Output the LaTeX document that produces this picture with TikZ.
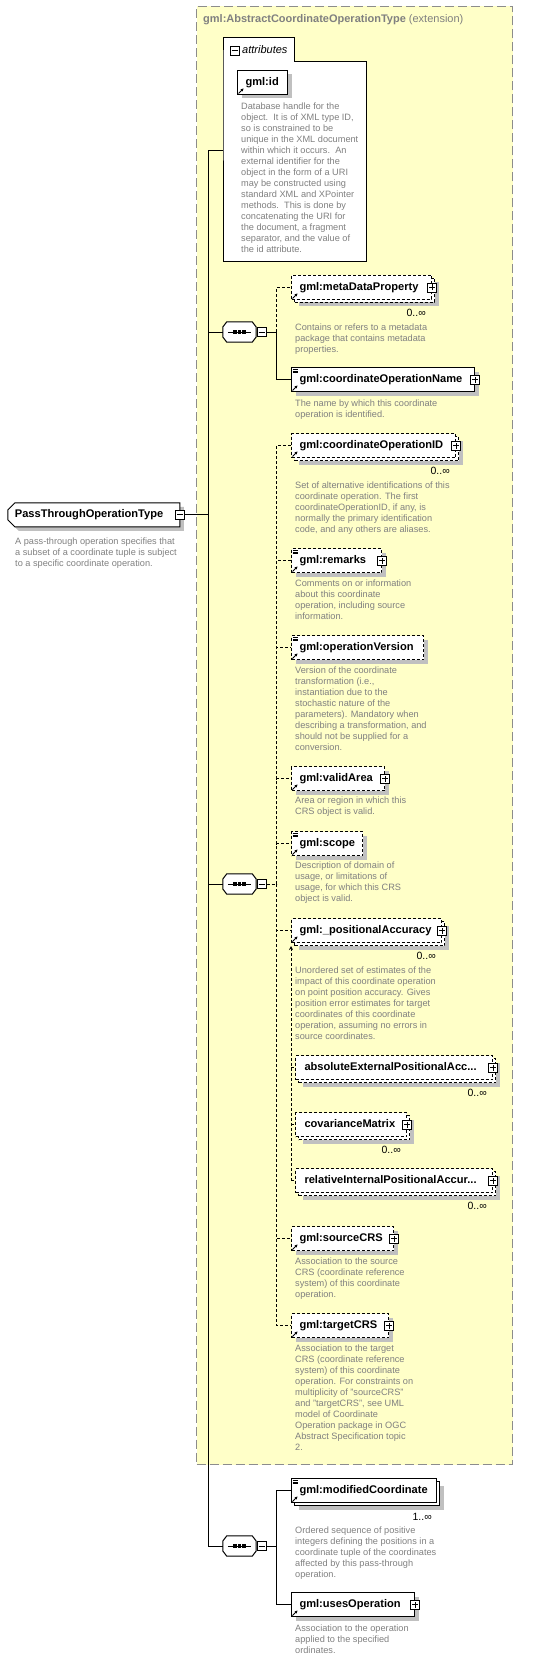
\documentclass[tikz,border=0pt]{standalone}
\usepackage{fontspec}
\setmainfont{Liberation Sans}
\usetikzlibrary{shapes.misc,shadows,calc,arrows.meta}

\definecolor{notegray}{RGB}{128,128,128}
\definecolor{extyellow}{RGB}{255,255,200}
\definecolor{framegray}{RGB}{140,140,140}
\definecolor{shadowgray}{RGB}{192,192,192}

\newcommand\elemfont{\fontsize{11.1}{13}\selectfont\bfseries}
\newcommand\notefont{\fontsize{9.2}{11}\selectfont}
\newcommand\multfont{\fontsize{10.5}{12}\selectfont}

% icons on an element box
\newcommand\refmark[1]{\draw[line width=0.8pt, -{Stealth[length=3pt,width=3pt]}] ($(#1.south west)+(1.5,-1.5)$) -- ++(5,-5);}
\newcommand\textmark[1]{\foreach \d in {2,3.8,5.6} \draw[line width=0.6pt] ($(#1.north west)+(1.5,\d)$) -- ++(5,0);}
% sequence compositor drawn round a named box
\newcommand\octpath[1]{($(#1.west)+(0,-5)$) -- ($(#1.north west)+(4,0)$) -- ($(#1.north east)+(-4,0)$) -- ($(#1.east)+(0,-5)$)
  -- ($(#1.east)+(0,5)$) -- ($(#1.south east)+(-4,0)$) -- ($(#1.south west)+(4,0)$) -- ($(#1.west)+(0,5)$) -- cycle}
\newcommand\seqmark[1]{%
  \fill[shadowgray, shift={(4,4)}] \octpath{#1};
  \draw[conn, fill=white] \octpath{#1};
  \draw[conn] ($(#1.west)+(5,0)$) -- ($(#1.east)+(-5,0)$);
  \foreach \d in {-4.5,0,4.5} \fill ($(#1.center)+(\d,0)$) +(-1.7,-1.7) rectangle +(1.7,1.7);}

\tikzset{
  conn/.style={line width=1pt},
  opt/.style={dash pattern=on 3pt off 2pt},
  shade4/.style={drop shadow={shadow xshift=4pt, shadow yshift=-4pt, fill=shadowgray, opacity=1}},
  elembase/.style={draw, fill=white, line width=1pt, anchor=north west, minimum height=24pt,
    inner xsep=8pt, inner ysep=0pt, align=left, font=\elemfont, text height=8pt, text depth=2.5pt},
  elem/.style={elembase, shade4},
  elems/.style={elembase, drop shadow={shadow xshift=7pt, shadow yshift=-7pt, fill=shadowgray, opacity=1},
    copy shadow={shadow xshift=3pt, shadow yshift=-3pt}},
  plusbox/.style={draw, fill=white, line width=0.8pt, minimum size=9pt, inner sep=0pt,
    path picture={\draw[line width=0.8pt] ([xshift=-3pt]path picture bounding box.center) -- ([xshift=3pt]path picture bounding box.center)
      ([yshift=-3pt]path picture bounding box.center) -- ([yshift=3pt]path picture bounding box.center);}},
  minusbox/.style={draw, fill=white, line width=0.8pt, minimum size=9pt, inner sep=0pt,
    path picture={\draw[line width=0.8pt] ([xshift=-3pt]path picture bounding box.center) -- ([xshift=3pt]path picture bounding box.center);}},
  seqbox/.style={minimum width=33pt, minimum height=20pt, inner sep=0pt},
  note/.style={anchor=north west, inner sep=0pt, align=left, font=\notefont, text=notegray},
  mult/.style={anchor=east, inner sep=0pt, font=\multfont},
}

\begin{document}
\begin{tikzpicture}[x=1pt, y=-1pt]
\useasboundingbox (0,0) rectangle (535,1661);

% extension frame
\node[draw=framegray, fill=extyellow, line width=1pt, dash pattern=on 9pt off 4pt, anchor=north west,
  minimum width=316pt, minimum height=1458pt, inner sep=0pt] (ext) at (196,6) {};
\node[anchor=west, inner sep=0pt, font=\fontsize{11}{13}\selectfont, text=notegray] (ext-title) at (203,19.5)
  {\textbf{gml:AbstractCoordinateOperationType} (extension)};

% attributes
\node[fill=white, anchor=north west, minimum width=143pt, minimum height=199pt, inner sep=0pt] (attrs) at (223,62) {};
\node[fill=white, anchor=south west, minimum width=71pt, minimum height=24pt, inner sep=0pt] (attrtab) at (attrs.north west) {};
\draw[conn] (attrtab.south west) |- (attrtab.north east) |- (attrs.north east) |- (attrs.south west) -- cycle;
\node[minusbox] (attr-x) at (234.5,50.5) {};
\node[anchor=west, inner sep=0pt, font=\fontsize{11}{13}\selectfont\itshape] (attr-label) at (242,50) {attributes};
\node[elem, text width=34pt] (gmlid) at (237,70) {gml:id};
\refmark{gmlid}
\node[note] (gmlid-d) at (241,102.5) {Database handle for the\\object.\ \ It is of XML type ID,\\so is constrained to be\\unique in the XML document\\within which it occurs.\ \ An\\external identifier for the\\object in the form of a URI\\may be constructed using\\standard XML and XPointer\\methods.\ \ This is done by\\concatenating the URI for\\the document, a fragment\\separator, and the value of\\the id attribute.};

% the type itself
\node[chamfered rectangle, chamfered rectangle corners={north west, south west}, chamfered rectangle xsep=3pt,
  chamfered rectangle ysep=4pt, draw, fill=white, line width=1pt, minimum width=166pt, minimum height=24pt,
  inner xsep=4pt, inner ysep=0pt, text width=158pt, align=left, font=\elemfont, text height=8pt, text depth=2.5pt,
  shade4, anchor=north west] (pt) at (11,506) {PassThroughOperationType};
\node[minusbox] (pt-x) at (pt.east) {};
\node[note] (pt-d) at (15,537.5) {A pass-through operation specifies that\\a subset of a coordinate tuple is subject\\to a specific coordinate operation.};

% first sequence
\node[seqbox] (seq1) at (239.5,332) {};
\seqmark{seq1}
\node[minusbox, anchor=west] (seq1-x) at ($(seq1.east)+(0.5,0)$) {};

\node[elems, opt, text width=124pt] (meta) at (291,275) {gml:metaDataProperty};
\node[plusbox] (meta-x) at (meta.east) {};
\node[mult] (meta-m) at ($(meta.south east)+(-6,13)$) {0..∞};
\refmark{meta}
\node[note] (meta-d) at (295,323.5) {Contains or refers to a metadata\\package that contains metadata\\properties.};

\node[elem, text width=167pt] (coname) at (291,367) {gml:coordinateOperationName};
\node[plusbox] (coname-x) at (coname.east) {};
\textmark{coname}
\refmark{coname}
\node[note] (coname-d) at (295,399.5) {The name by which this coordinate\\operation is identified.};

% second sequence
\node[seqbox] (seq2) at (239.5,884) {};
\seqmark{seq2}
\node[minusbox, anchor=west] (seq2-x) at ($(seq2.east)+(0.5,0)$) {};

\node[elems, opt, text width=148pt] (coid) at (291,433) {gml:coordinateOperationID};
\node[plusbox] (coid-x) at (coid.east) {};
\node[mult] (coid-m) at ($(coid.south east)+(-6,13)$) {0..∞};
\refmark{coid}
\node[note] (coid-d) at (295,481.5) {Set of alternative identifications of this\\coordinate operation. The first\\coordinateOperationID, if any, is\\normally the primary identification\\code, and any others are aliases.};

\node[elem, opt, text width=74pt] (remarks) at (291,548) {gml:remarks};
\node[plusbox] (remarks-x) at (remarks.east) {};
\textmark{remarks}
\refmark{remarks}
\node[note] (remarks-d) at (295,579.5) {Comments on or information\\about this coordinate\\operation, including source\\information.};

\node[elem, opt, text width=116pt] (opversion) at (291,635) {gml:operationVersion};
\textmark{opversion}
\refmark{opversion}
\node[note] (opversion-d) at (295,666.5) {Version of the coordinate\\transformation (i.e.,\\instantiation due to the\\stochastic nature of the\\parameters). Mandatory when\\describing a transformation, and\\should not be supplied for a\\conversion.};

\node[elem, opt, text width=77pt] (validarea) at (291,766) {gml:validArea};
\node[plusbox] (validarea-x) at (validarea.east) {};
\refmark{validarea}
\node[note] (validarea-d) at (295,796.5) {Area or region in which this\\CRS object is valid.};

\node[elem, opt, text width=55pt] (scope) at (291,831) {gml:scope};
\textmark{scope}
\refmark{scope}
\node[note] (scope-d) at (295,861.5) {Description of domain of\\usage, or limitations of\\usage, for which this CRS\\object is valid.};

\node[elems, opt, text width=134pt] (posacc) at (291,918) {gml:\_positionalAccuracy};
\node[plusbox] (posacc-x) at (posacc.east) {};
\node[mult] (posacc-m) at ($(posacc.south east)+(-6,13)$) {0..∞};
\refmark{posacc}
\node[note] (posacc-d) at (295,966.5) {Unordered set of estimates of the\\impact of this coordinate operation\\on point position accuracy. Gives\\position error estimates for target\\coordinates of this coordinate\\operation, assuming no errors in\\source coordinates.};

% substitution group of _positionalAccuracy
\node[elems, opt, inner xsep=9pt, text width=179pt] (absacc) at (295,1055) {absoluteExternalPositionalAcc...};
\node[plusbox] (absacc-x) at (absacc.east) {};
\node[mult] (absacc-m) at ($(absacc.south east)+(-6,13)$) {0..∞};

\node[elems, opt, inner xsep=9pt, text width=93pt] (covmat) at (295,1112) {covarianceMatrix};
\node[plusbox] (covmat-x) at (covmat.east) {};
\node[mult] (covmat-m) at ($(covmat.south east)+(-6,13)$) {0..∞};

\node[elems, opt, inner xsep=9pt, text width=179pt] (relacc) at (295,1168) {relativeInternalPositionalAccur...};
\node[plusbox] (relacc-x) at (relacc.east) {};
\node[mult] (relacc-m) at ($(relacc.south east)+(-6,13)$) {0..∞};

\node[elem, opt, text width=86pt] (srccrs) at (291,1226) {gml:sourceCRS};
\node[plusbox] (srccrs-x) at (srccrs.east) {};
\refmark{srccrs}
\node[note] (srccrs-d) at (295,1257.5) {Association to the source\\CRS (coordinate reference\\system) of this coordinate\\operation.};

\node[elem, opt, text width=81pt] (tgtcrs) at (291,1313) {gml:targetCRS};
\node[plusbox] (tgtcrs-x) at (tgtcrs.east) {};
\refmark{tgtcrs}
\node[note] (tgtcrs-d) at (295,1344.5) {Association to the target\\CRS (coordinate reference\\system) of this coordinate\\operation. For constraints on\\multiplicity of "sourceCRS"\\and "targetCRS", see UML\\model of Coordinate\\Operation package in OGC\\Abstract Specification topic\\2.};

% third sequence
\node[seqbox] (seq3) at (239.5,1546) {};
\seqmark{seq3}
\node[minusbox, anchor=west] (seq3-x) at ($(seq3.east)+(0.5,0)$) {};

\node[elems, text width=129pt] (modcoord) at (291,1478) {gml:modifiedCoordinate};
\node[mult] (modcoord-m) at ($(modcoord.south east)+(-5,14)$) {1..∞};
\textmark{modcoord}
\refmark{modcoord}
\node[note] (modcoord-d) at (295,1526.5) {Ordered sequence of positive\\integers defining the positions in a\\coordinate tuple of the coordinates\\affected by this pass-through\\operation.};

\node[elem, text width=107pt] (usesop) at (291,1592) {gml:usesOperation};
\node[plusbox] (usesop-x) at (usesop.east) {};
\refmark{usesop}
\node[note] (usesop-d) at (295,1624.5) {Association to the operation\\applied to the specified\\ordinates.};

% connectors
\coordinate (trunk) at (208,151);
\draw[conn] (trunk) |- (seq3.west);
\draw[conn] (trunk) -- (trunk -| attrs.west);
\draw[conn] (pt-x.east) -- (pt-x.east -| trunk);
\draw[conn] (seq1.west -| trunk) -- (seq1.west);
\draw[conn] (seq2.west -| trunk) -- (seq2.west);

\draw[conn] (seq1-x.east) -- ++(10,0) coordinate (bus1);
\draw[conn, opt] (bus1) |- (meta.west);
\draw[conn] (bus1) |- (coname.west);

\draw[conn, opt] (seq2-x.east) -- ++(10,0) coordinate (bus2);
\foreach \n in {coid, remarks, opversion, validarea, scope, posacc, srccrs, tgtcrs}
  \draw[conn, opt] (bus2) |- (\n.west);

\draw[conn, opt, -{Stealth[length=4pt,width=4pt]}] (posacc.west |- relacc.west) -- ($(posacc.south west)+(0,3)$);
\foreach \n in {absacc, covmat, relacc}
  \draw[conn, opt] (posacc.west |- \n.west) -- (\n.west);

\draw[conn] (seq3-x.east) -- ++(10,0) coordinate (bus3);
\foreach \n in {modcoord, usesop}
  \draw[conn] (bus3) |- (\n.west);

\end{tikzpicture}
\end{document}
